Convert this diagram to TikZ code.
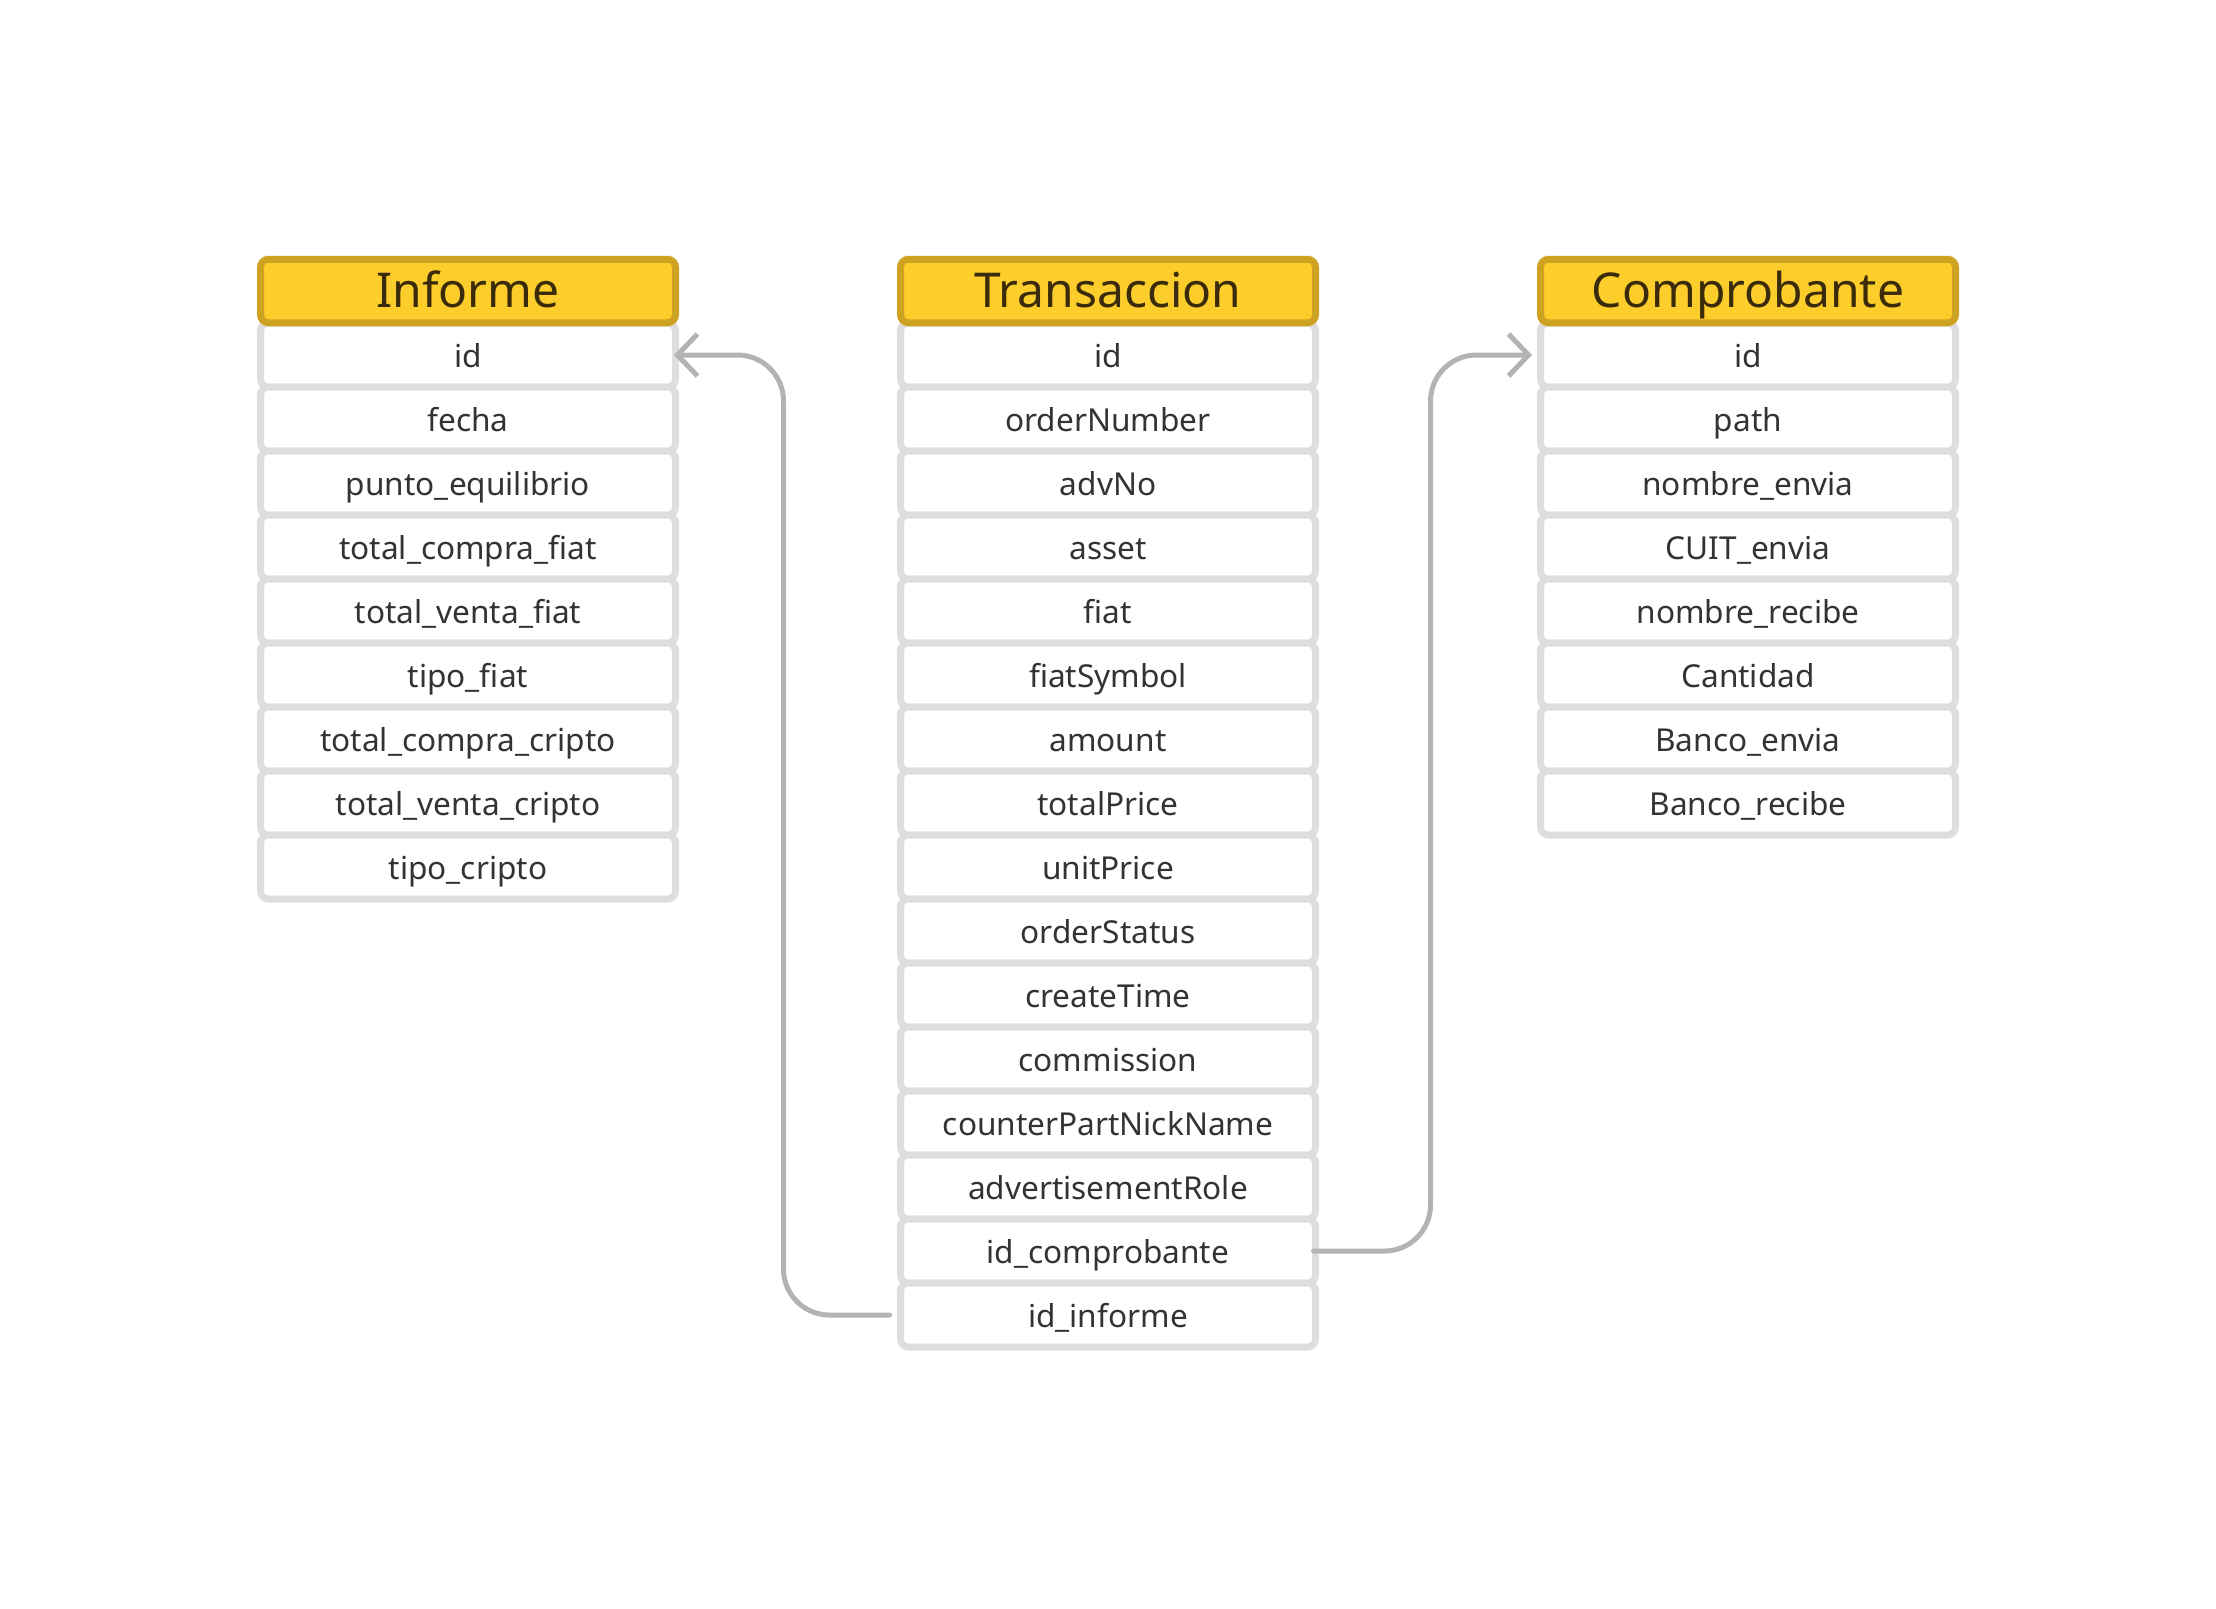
\documentclass[tikz,border=0pt]{standalone}
\usepackage{fontspec}
\setmainfont{Noto Sans}
\usepackage{tikz}
\usetikzlibrary{arrows.meta}
\definecolor{hdrfill}{HTML}{FDCD2B}
\definecolor{hdrline}{HTML}{CFA322}
\definecolor{hdrtext}{HTML}{3A2C0A}
\definecolor{rowline}{HTML}{DEDEDE}
\definecolor{rowtext}{HTML}{333333}
\definecolor{linkgray}{HTML}{B3B3B3}
\tikzstyle{header} = [rectangle, draw=hdrline, fill=hdrfill, rounded corners=4pt,
                 line width=3.5pt, minimum width=207.5pt, minimum height=31.75pt,
                 inner sep=0pt, text=hdrtext, text height=1.6em, text depth=0pt,
                 font=\fontsize{24}{26}\selectfont]
\tikzstyle{field} = [rectangle, draw=rowline, fill=white, rounded corners=4pt,
                 line width=3.5pt, minimum width=207.5pt, minimum height=32pt,
                 inner sep=0pt, text=rowtext, text height=1.21em, text depth=0pt,
                 font=\fontsize{15.8}{18}\selectfont]
\tikzstyle{link} = [draw=linkgray, line width=2.5pt, line cap=round,
                 rounded corners=23pt, -{Straight Barb[length=10pt,width=21pt]}]

\begin{document}
\begin{tikzpicture}[x=0.5pt,y=-0.5pt]
\useasboundingbox (0,0) rectangle (2216,1608);

% Informe
\foreach \i/\field in {1/id, 2/fecha, 3/punto\_equilibrio, 4/total\_compra\_fiat,
	5/total\_venta\_fiat, 6/tipo\_fiat, 7/total\_compra\_cripto,
	8/total\_venta\_cripto, 9/tipo\_cripto}
	\node [field] (inf\i) at (468,{291+64*\i}) {\field};
\node [header] (inf) at (468,291) {Informe};

% Transaccion
\foreach \i/\field in {1/id, 2/orderNumber, 3/advNo, 4/asset, 5/fiat,
	6/fiatSymbol, 7/amount, 8/totalPrice, 9/unitPrice, 10/orderStatus,
	11/createTime, 12/commission, 13/counterPartNickName,
	14/advertisementRole, 15/id\_comprobante, 16/id\_informe}
	\node [field] (tr\i) at (1108,{291+64*\i}) {\field};
\node [header] (tr) at (1108,291) {Transaccion};

% Comprobante
\foreach \i/\field in {1/id, 2/path, 3/nombre\_envia, 4/CUIT\_envia,
	5/nombre\_recibe, 6/Cantidad, 7/Banco\_envia, 8/Banco\_recibe}
	\node [field] (com\i) at (1748,{291+64*\i}) {\field};
\node [header] (com) at (1748,291) {Comprobante};

% relaciones
\path [link, shorten <=3.75pt, shorten >=-2.5pt] (tr16.west) -- ++(-113.5,0) |- (inf1.east);
\path [link, shorten <=-2.75pt, shorten >=2.5pt] (tr15.east) -- ++(111.5,0) |- (com1.west);

\end{tikzpicture}
\end{document}
